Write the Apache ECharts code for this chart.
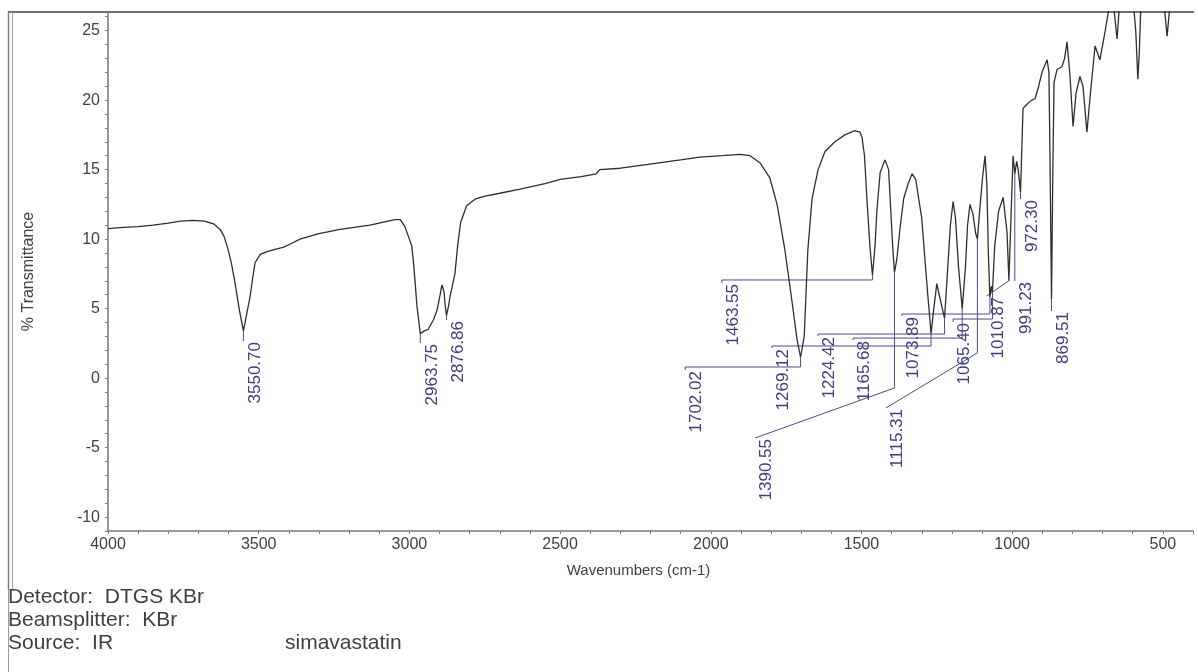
<!DOCTYPE html>
<html>
<head>
<meta charset="utf-8">
<title>simavastatin FTIR</title>
<script src="https://cdn.jsdelivr.net/npm/echarts@6/dist/echarts.min.js"></script>
<style>
  html, body { margin: 0; padding: 0; background: #fff; }
  #chart { width: 1198px; height: 672px; }
</style>
</head>
<body>
<div id="chart"></div>
<script>
// spectrum (wavenumber cm-1, %T)
const wavenumbers = [
  4000, 3950, 3900, 3850, 3800, 3760, 3720, 3680, 3650, 3628, 3615, 3602, 3590, 3579, 3565,
  3550.7, 3540, 3529, 3520, 3512, 3495, 3472, 3440, 3419, 3390, 3363, 3300, 3230, 3131, 3048,
  3030, 3015, 3000, 2992, 2985, 2975, 2963.75, 2950, 2938, 2920, 2908, 2898, 2892, 2885, 2882,
  2876.86, 2870, 2865, 2849, 2840, 2830, 2810, 2780, 2749, 2700, 2633, 2550, 2500, 2430, 2380,
  2368, 2300, 2202, 2100, 2036, 1960, 1903, 1870, 1837, 1804, 1780, 1754, 1731, 1714, 1702.02,
  1690, 1678, 1664, 1644, 1621, 1588, 1555, 1522, 1505, 1498, 1490, 1482, 1472, 1463.55, 1455,
  1449, 1438, 1422, 1410, 1405, 1396, 1390.55, 1383, 1372, 1360, 1345, 1332, 1320, 1310, 1300,
  1290, 1280, 1269.12, 1260, 1250, 1240, 1224.42, 1215, 1205, 1196, 1188, 1178, 1165.68, 1155, 1148,
  1140, 1130, 1121, 1115.31, 1108, 1098, 1090, 1084, 1079, 1073.89, 1069, 1065.40, 1058, 1045, 1030,
  1024, 1017, 1010.87, 1004, 997, 991.23, 985, 980, 972.30, 964, 951, 935, 924, 912, 901,
  884, 878, 874, 869.51, 865, 861, 851, 835, 826, 818, 808, 798, 788, 775, 765,
  752, 742, 725, 709, 692, 682, 672, 662, 652, 645, 635, 600, 590, 583, 578,
  572, 500, 492, 486, 480, 474, 400
];
const transmittance = [
  10.75, 10.85, 10.9, 11.0, 11.15, 11.3, 11.35, 11.3, 11.1, 10.7, 10.2, 9.3, 8.2, 6.9, 5.0,
  3.4, 4.6, 5.8, 7.2, 8.3, 8.9, 9.1, 9.3, 9.4, 9.7, 10.0, 10.4, 10.7, 11.0, 11.4,
  11.4, 10.9, 10.0, 9.5, 8.0, 5.2, 3.2, 3.4, 3.5, 4.2, 4.9, 6.0, 6.7, 6.2, 5.4,
  4.5, 5.2, 5.9, 7.5, 9.5, 11.2, 12.4, 12.9, 13.1, 13.3, 13.6, 14.0, 14.3, 14.5, 14.7,
  15.0, 15.1, 15.4, 15.7, 15.9, 16.0, 16.1, 16.0, 15.5, 14.4, 12.5, 9.2, 5.6, 2.8, 1.5,
  3.0, 9.2, 12.9, 15.0, 16.3, 17.0, 17.5, 17.8, 17.7, 17.3, 16.0, 12.9, 9.5, 7.4, 9.5,
  12.0, 14.8, 15.7, 15.0, 13.0, 9.3, 7.6, 8.5, 10.8, 12.9, 14.0, 14.7, 14.3, 12.9, 11.5,
  8.7, 6.0, 3.2, 5.0, 6.8, 5.8, 4.3, 7.5, 11.0, 12.7, 11.5, 8.0, 5.0, 8.0, 11.0,
  12.5, 11.8, 10.4, 10.0, 12.0, 14.5, 16.0, 14.0, 9.0, 5.8, 6.6, 6.2, 9.5, 12.0, 13.0,
  13.1, 10.5, 7.0, 11.5, 16.0, 14.7, 15.6, 15.0, 13.4, 19.4, 19.7, 20.0, 20.1, 21.0, 22.0,
  22.9, 22.0, 15.0, 5.7, 15.0, 21.3, 22.2, 22.4, 23.0, 24.2, 21.7, 18.1, 20.5, 21.7, 21.0,
  17.7, 20.1, 23.9, 22.9, 24.9, 26.2, 27.5, 26.5, 24.4, 26.5, 27.5, 27.5, 25.0, 21.5, 23.5,
  27.5, 27.5, 26.0, 24.6, 26.0, 27.5, 27.5
];

// peak picks
const peakLabels = [
  '3550.70', '2963.75', '2876.86', '1702.02', '1463.55', '1390.55', '1269.12', '1224.42',
  '1165.68', '1115.31', '1073.89', '1065.40', '1010.87', '991.23', '972.30', '869.51'
];
// where each pick's text sits (wavenumber, %T at the top of the text) and the leader's elbow level
const labelWn = [3550.7, 2963.75, 2876.86, 2085, 1963, 1853, 1797, 1644, 1528, 1419, 1366, 1196, 1084, 991.23, 972.3, 869.51];
const labelTopT = [2.67, 2.53, 4.18, 0.58, 6.84, -4.31, 2.17, 3.03, 2.74, -2.15, 4.47, 4.04, 5.91, 6.99, 12.88, 4.83];
const elbowT = [null, null, null, 0.8, 7.06, -0.71, 2.31, 3.17, 2.88, 1.81, 4.61, 4.25, null, null, null, null];
const slantedLeaders = ['1390.55', '1115.31'];

const yTicks = [-10, -5, 0, 5, 10, 15, 20, 25];
const xTicks = [4000, 3500, 3000, 2500, 2000, 1500, 1000, 500];

const infoLines = ['Detector:  DTGS KBr', 'Beamsplitter:  KBr', 'Source:  IR'];
const sampleName = 'simavastatin';

const peakWn = peakLabels.map(Number);
const peakT = peakWn.map(w => transmittance[wavenumbers.indexOf(w)]);

function leaderPath(i) {
  const pts = [[peakWn[i], peakT[i]]];
  if (elbowT[i] !== null) {
    pts.push([peakWn[i], elbowT[i]]);
    if (!slantedLeaders.includes(peakLabels[i])) pts.push([labelWn[i], elbowT[i]]);
  }
  pts.push([labelWn[i], labelTopT[i]]);
  return pts;
}

const FONT = '"Liberation Sans", Arial, sans-serif';
const axisGray = '#7a7a7a';
const textGray = '#3f3f3f';
const pickBlue = '#3d3d80';

const chart = echarts.init(document.getElementById('chart'));

chart.setOption({
  backgroundColor: '#fff',
  animation: false,
  grid: { left: 108, right: 5, top: 12, bottom: 141 },
  xAxis: {
    type: 'value',
    inverse: true,
    min: 400,
    max: 4000,
    interval: 100,
    name: 'Wavenumbers (cm-1)',
    nameLocation: 'middle',
    nameGap: 32,
    nameTextStyle: { color: textGray, fontSize: 15, fontFamily: FONT, padding: [0, 24, 0, 0] },
    axisLine: { onZero: false, lineStyle: { color: axisGray, width: 1.5 } },
    axisTick: { length: 3, lineStyle: { color: axisGray } },
    axisLabel: {
      color: textGray,
      fontSize: 16,
      fontFamily: FONT,
      margin: 6,
      formatter: v => (xTicks.includes(v) ? String(v) : '')
    },
    splitLine: { show: false }
  },
  yAxis: {
    type: 'value',
    min: -11,
    max: 26.34,
    interval: 1,
    name: '% Transmittance',
    nameLocation: 'middle',
    nameGap: 71,
    nameTextStyle: { color: textGray, fontSize: 16, fontFamily: FONT },
    axisLine: { show: true, onZero: false, lineStyle: { color: axisGray, width: 1.5 } },
    axisTick: { show: true, length: 3, lineStyle: { color: axisGray } },
    axisLabel: {
      color: textGray,
      fontSize: 16,
      fontFamily: FONT,
      margin: 8,
      showMaxLabel: false,
      formatter: v => (yTicks.includes(v) ? String(v) : '')
    },
    splitLine: { show: false }
  },
  graphic: [
    { type: 'line', shape: { x1: 8, y1: 12, x2: 1194, y2: 12 }, style: { stroke: '#6e6e6e', lineWidth: 2 } },
    { type: 'line', shape: { x1: 8.5, y1: 12, x2: 8.5, y2: 590 }, style: { stroke: '#808080', lineWidth: 1.5 } },
    { type: 'line', shape: { x1: 12.5, y1: 12, x2: 12.5, y2: 590 }, style: { stroke: '#a0a0a0', lineWidth: 1 } },
    { type: 'line', shape: { x1: 8.5, y1: 590, x2: 8.5, y2: 672 }, style: { stroke: '#9a9a9a', lineWidth: 1 } },
    ...infoLines.map((t, i) => ({
      type: 'text', left: 8, top: 587 + i * 23,
      style: { text: t, fill: textGray, font: '21px ' + FONT }
    })),
    { type: 'text', left: 285, top: 633, style: { text: sampleName, fill: textGray, font: '21px ' + FONT } }
  ],
  series: [
    {
      type: 'line',
      data: wavenumbers.map((w, i) => [w, transmittance[i]]),
      showSymbol: false,
      lineStyle: { color: '#2e2e2e', width: 1.3 },
      clip: true,
      z: 3
    },
    {
      type: 'custom',
      data: peakWn.map((w, i) => [w, peakT[i]]),
      encode: { x: 0, y: 1 },
      clip: false,
      z: 2,
      renderItem: function (params, api) {
        const i = params.dataIndex;
        const pts = leaderPath(i).map(p => api.coord(p));
        const end = pts[pts.length - 1];
        return {
          type: 'group',
          children: [
            {
              type: 'polyline',
              shape: { points: pts },
              style: { stroke: '#4b4b8f', lineWidth: 1, fill: null }
            },
            {
              type: 'text',
              x: end[0] + 3,
              y: end[1] + 1,
              rotation: Math.PI / 2,
              style: {
                text: peakLabels[i],
                align: 'right',
                verticalAlign: 'top',
                fill: pickBlue,
                font: '17px ' + FONT
              }
            }
          ]
        };
      }
    }
  ]
});
</script>
</body>
</html>
